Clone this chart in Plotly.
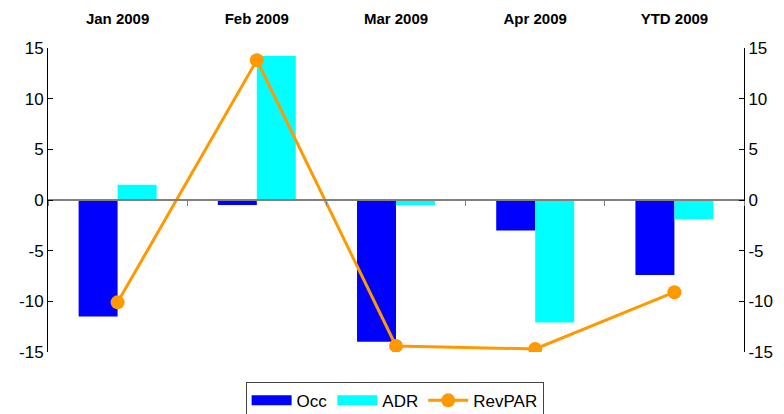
import plotly.graph_objects as go

categories = ["Jan 2009", "Feb 2009", "Mar 2009", "Apr 2009", "YTD 2009"]
occ = [-11.5, -0.5, -14.0, -3.0, -7.4]
adr = [1.5, 14.2, -0.5, -12.1, -1.9]
revpar = [-10.1, 13.8, -14.4, -14.7, -9.1]
y_tickvals = [-15, -10, -5, 0, 5, 10, 15]
y_ticktext = ["-15", "-10", "-5", "0", "5", "10", "15"]

OCC_C = "#0000FF"
ADR_C = "#00FFFF"
REV_C = "#FF9900"

fig = go.Figure()
fig.add_trace(go.Bar(x=categories, y=occ, name="Occ", marker_color=OCC_C,
                     marker_line_width=0, showlegend=False))
fig.add_trace(go.Bar(x=categories, y=adr, name="ADR", marker_color=ADR_C,
                     marker_line_width=0, showlegend=False))
# legend-only entries drawn as wide swatches, like the original legend
fig.add_trace(go.Scatter(x=[None], y=[None], mode="lines", name="Occ",
                         line=dict(color=OCC_C, width=12)))
fig.add_trace(go.Scatter(x=[None], y=[None], mode="lines", name="ADR",
                         line=dict(color=ADR_C, width=12)))
fig.add_trace(go.Scatter(x=categories, y=revpar, name="RevPAR", mode="lines+markers",
                         line=dict(color=REV_C, width=3),
                         marker=dict(color=REV_C, size=14),
                         xaxis="x2", yaxis="y2"))

axis_font = dict(family="Arial, Liberation Sans, sans-serif", size=17, color="black")

yaxis_common = dict(range=[-15, 15], tickvals=y_tickvals, ticktext=y_ticktext,
                    showline=True, linecolor="black", linewidth=1,
                    ticks="inside", ticklen=5, tickcolor="black", showgrid=False,
                    zeroline=False, tickfont=axis_font, automargin=False)

fig.update_layout(
    width=784, height=414,
    margin=dict(l=48, r=40, t=48, b=62, autoexpand=False),
    paper_bgcolor="white", plot_bgcolor="white",
    barmode="group", bargap=0.44, bargroupgap=0,
    font=axis_font,
    showlegend=True,
    legend=dict(orientation="h", x=0.498, xanchor="center", y=-0.098, yanchor="top",
                bordercolor="#444444", borderwidth=1, font=dict(size=17),
                itemwidth=40, tracegroupgap=0, traceorder="normal"),
    xaxis=dict(side="top", showline=False, ticks="", showgrid=False, zeroline=False,
               automargin=False, range=[-0.5, 4.5], ticklabelstandoff=20,
               tickfont=dict(family="Arial, Liberation Sans, sans-serif", size=15,
                             color="black", weight="bold"),
               categoryorder="array", categoryarray=categories),
    xaxis2=dict(overlaying="x", anchor="free", position=0.5, side="bottom",
                showline=True, linecolor="#808080", linewidth=1.5,
                tickson="boundaries", ticks="outside", ticklen=5, tickcolor="#808080",
                showticklabels=False, showgrid=False, zeroline=False,
                automargin=False, range=[-0.5, 4.5],
                categoryorder="array", categoryarray=categories),
    yaxis=dict(**yaxis_common),
    yaxis2=dict(**yaxis_common, overlaying="y", side="right", anchor="x"),
)

fig.write_html("out.html", config={"displayModeBar": False},
               post_script="document.body.style.margin='0';document.body.style.padding='0';")
